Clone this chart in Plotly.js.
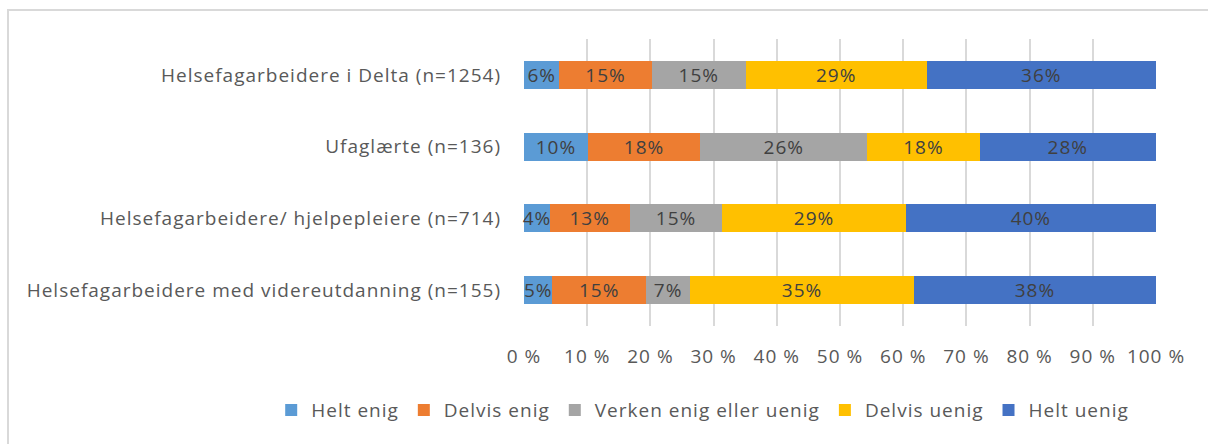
<!DOCTYPE html>
<html>
<head>
<meta charset="utf-8">
<script src="https://cdn.plot.ly/plotly-3.0.1.min.js"></script>
<style>
html,body{margin:0;padding:0;background:#fff;}
#wrap{position:relative;width:1208px;height:444px;overflow:hidden;}
#chart{width:1208px;height:444px;}
#frame{position:absolute;left:7px;top:9px;width:1210px;height:450px;border:2px solid #d9d9d9;pointer-events:none;box-sizing:border-box;}
svg text{letter-spacing:1px;}
</style>
</head>
<body>
<div id="wrap"><div id="chart"></div><div id="frame"></div></div>
<script>
const categories = [
  "Helsefagarbeidere i Delta (n=1254)",
  "Ufaglærte (n=136)",
  "Helsefagarbeidere/ hjelpepleiere (n=714)",
  "Helsefagarbeidere med videreutdanning (n=155)"
];
const seriesNames = ["Helt enig", "Delvis enig", "Verken enig eller uenig", "Delvis uenig", "Helt uenig"];
const heltEnig    = [5.6, 10.1, 4.1, 4.5];
const delvisEnig  = [14.6, 17.8, 12.6, 14.8];
const verken      = [14.9, 26.4, 14.7, 7.0];
const delvisUenig = [28.6, 17.8, 29.0, 35.4];
const heltUenig   = [36.3, 27.9, 39.6, 38.3];
const colors = ["#5b9bd5", "#ed7d31", "#a5a5a5", "#ffc000", "#4472c4"];
const tickVals = [0,10,20,30,40,50,60,70,80,90,100];
const tickText = ["0 %","10 %","20 %","30 %","40 %","50 %","60 %","70 %","80 %","90 %","100 %"];

const FONT = "'Open Sans', 'Liberation Sans', sans-serif";
const FS = 19;
const allSeries = [heltEnig, delvisEnig, verken, delvisUenig, heltUenig];
const traces = allSeries.map((vals, i) => ({
  type: "bar",
  orientation: "h",
  name: seriesNames[i],
  y: categories,
  x: vals,
  marker: {color: colors[i], line: {color: "#ffffff", width: 0}},
  text: vals.map(v => Math.round(v) + "%"),
  textposition: "inside",
  insidetextanchor: "middle",
  textangle: 0,
  constraintext: "none",
  cliponaxis: false,
  textfont: {family: FONT, size: FS, color: "#404040"},
  hoverinfo: "x+name"
}));

const layout = {
  width: 1208, height: 444,
  barmode: "stack",
  bargap: 0.61,
  paper_bgcolor: "#ffffff",
  plot_bgcolor: "#ffffff",
  margin: {l: 524, r: 52, t: 39, b: 118, pad: 0},
  font: {family: FONT, size: FS, color: "#595959"},
  uniformtext: {mode: false},
  xaxis: {
    range: [0, 100],
    tickvals: tickVals,
    ticktext: tickText,
    showgrid: true,
    gridcolor: "#d9d9d9",
    gridwidth: 2,
    zeroline: false,
    showline: false,
    ticks: "",
    tickfont: {family: FONT, size: FS, color: "#595959"},
    ticklabelstandoff: 17,
    fixedrange: true
  },
  yaxis: {
    autorange: "reversed",
    showgrid: false,
    zeroline: false,
    showline: false,
    ticks: "",
    ticklabelstandoff: 22,
    tickfont: {family: FONT, size: FS, color: "#595959"},
    fixedrange: true
  },
  showlegend: true,
  legend: {
    orientation: "h",
    xref: "paper", yref: "paper",
    x: -0.400, xanchor: "left",
    y: -0.293, yanchor: "middle",
    font: {family: FONT, size: FS, color: "#595959"},
    traceorder: "normal",
    bgcolor: "rgba(0,0,0,0)"
  }
};

Plotly.newPlot("chart", traces, layout, {displayModeBar: false, staticPlot: true});
</script>
</body>
</html>
